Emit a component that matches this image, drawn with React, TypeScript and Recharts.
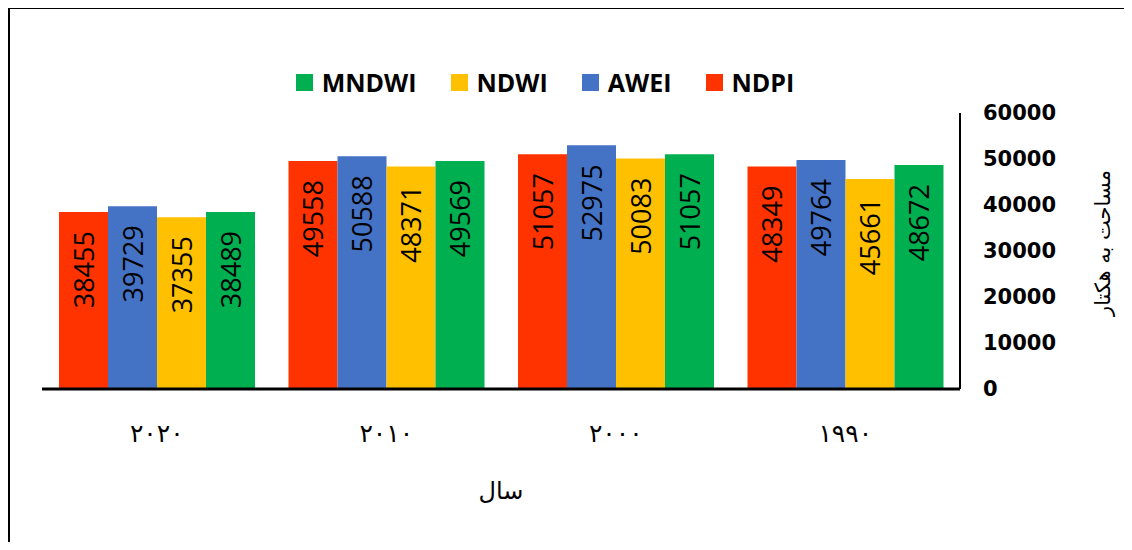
import { BarChart, Bar, XAxis, YAxis, LabelList, Label } from "recharts";

// years in chronological order, the axis is reversed like the original
const years = ["۱۹۹۰", "۲۰۰۰", "۲۰۱۰", "۲۰۲۰"];
const ndpi = [48349, 51057, 49558, 38455];
const awei = [49764, 52975, 50588, 39729];
const ndwi = [45661, 50083, 48371, 37355];
const mndwi = [48672, 51057, 49569, 38489];
const yTicks = [0, 10000, 20000, 30000, 40000, 50000, 60000];

const series = [
  { key: "NDPI", color: "#FF3300" },
  { key: "AWEI", color: "#4472C4" },
  { key: "NDWI", color: "#FFC000" },
  { key: "MNDWI", color: "#00B050" },
];

const data = years.map((year, i) => ({
  year,
  NDPI: ndpi[i],
  AWEI: awei[i],
  NDWI: ndwi[i],
  MNDWI: mndwi[i],
}));

const renderBarLabel = (props: any) => {
  const { x, y, width, value } = props;
  const cx = x + width / 2;
  const cy = y + 19;
  return (
    <text
      x={cx}
      y={cy}
      transform={`rotate(-90 ${cx} ${cy})`}
      textAnchor="end"
      dominantBaseline="central"
      fontFamily="'Open Sans', sans-serif"
      fontSize={27}
      fill="#000"
    >
      {value}
    </text>
  );
};

export default function App() {
  return (
    <div style={{ position: "relative", width: 1132, height: 550, margin: -8, background: "#fff", overflow: "hidden" }}>
      <div
        style={{
          position: "absolute",
          top: 6,
          left: 7,
          right: 0,
          bottom: 0,
          borderTop: "3px solid #000",
          borderLeft: "3px solid #000",
        }}
      />
      {/* legend reads right-to-left in the original */}
      <div
        style={{
          position: "absolute",
          top: 65,
          left: 0,
          width: 1124,
          display: "flex",
          justifyContent: "center",
          alignItems: "center",
        }}
      >
        {series.slice().reverse().map((s) => (
          <div key={s.key} style={{ display: "flex", alignItems: "center", marginRight: 34 }}>
            <span style={{ width: 17, height: 17, background: s.color, marginRight: 9, display: "inline-block" }} />
            <span style={{ fontFamily: "'Open Sans', sans-serif", fontWeight: 700, fontSize: 25, color: "#000" }}>
              {s.key}
            </span>
          </div>
        ))}
      </div>
      <div style={{ position: "absolute", top: 0, left: 0 }}>
        <BarChart
          width={1132}
          height={550}
          data={data}
          margin={{ top: 113, right: 72, left: 42, bottom: 41 }}
          barCategoryGap={17}
          barGap={0}
        >
          <XAxis
            dataKey="year"
            reversed
            height={120}
            axisLine={{ stroke: "#000", strokeWidth: 3 }}
            tickLine={false}
            tickSize={0}
            tickMargin={35}
            tick={{ fill: "#000", fontSize: 25, fontFamily: "'DejaVu Sans', sans-serif" }}
          >
            <Label
              value="سال"
              position="insideBottom"
              offset={10}
              fill="#000"
              fontSize={24}
              fontFamily="'DejaVu Sans', sans-serif"
            />
          </XAxis>
          <YAxis
            orientation="right"
            width={100}
            domain={[0, 60000]}
            ticks={yTicks}
            axisLine={{ stroke: "#000", strokeWidth: 2 }}
            tickLine={false}
            tickSize={0}
            tickMargin={23}
            tick={{ fill: "#000", fontSize: 21, fontWeight: 700, fontFamily: "'DejaVu Sans', sans-serif" }}
          >
            <Label
              content={(props: any) => {
                const vb = props.viewBox;
                const lx = vb.x + vb.width + 43;
                const ly = vb.y + vb.height / 2 - 8;
                return (
                  <text
                    x={lx}
                    y={ly}
                    transform={`rotate(-90 ${lx} ${ly})`}
                    textAnchor="middle"
                    dominantBaseline="central"
                    fontFamily="'DejaVu Sans', sans-serif"
                    fontSize={21}
                    fill="#000"
                  >
                    مساحت به هکتار
                  </text>
                );
              }}
            />
          </YAxis>
          {series.map((s) => (
            <Bar key={s.key} dataKey={s.key} fill={s.color} isAnimationActive={false}>
              <LabelList dataKey={s.key} content={renderBarLabel} />
            </Bar>
          ))}
        </BarChart>
      </div>
    </div>
  );
}
